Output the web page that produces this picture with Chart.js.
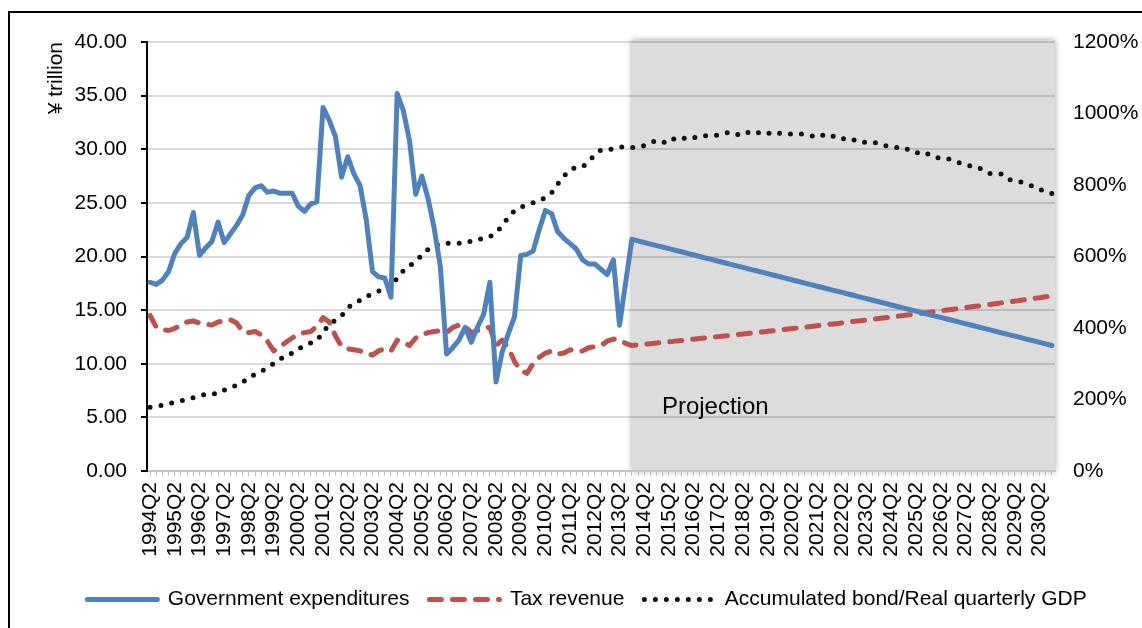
<!DOCTYPE html>
<html>
<head>
<meta charset="utf-8">
<title>Government expenditures, tax revenue and accumulated bond</title>
<script src="https://cdn.jsdelivr.net/npm/chart.js@4"></script>
<style>
    html, body { margin: 0; padding: 0; background: #fff; }
    #wrap { width: 1142px; height: 628px; position: relative; }
</style>
</head>
<body>
<div id="wrap"><canvas id="graphique"></canvas></div>
<script>
// Trimestres 1994Q2 -> 2030Q4
const quarters = []
for (let year = 1994; year <= 2030; year++) {
    for (let q = 1; q <= 4; q++) {
        if (year === 1994 && q === 1) continue
        quarters.push(year + "Q" + q)
    }
}
const projectionStart = "2013Q4"

// ¥ trillion
const govExpenditure = [
    17.6, 17.4, 17.8, 18.6, 20.3, 21.2, 21.8, 24.1, 20.1, 20.8,
    21.4, 23.2, 21.3, 22.1, 22.9, 23.9, 25.7, 26.4, 26.6, 26.0,
    26.1, 25.9, 25.9, 25.9, 24.7, 24.2, 24.9, 25.1, 33.9, 32.7,
    31.2, 27.4, 29.3, 27.7, 26.6, 23.4, 18.6, 18.1, 18.0, 16.2,
    35.2, 33.6, 30.8, 25.8, 27.5, 25.4, 22.6, 19.0, 10.9, 11.5,
    12.2, 13.4, 12.0, 13.4, 14.6, 17.6, 8.3, 11.1, 12.8, 14.4,
    20.1, 20.2, 20.5, 22.5, 24.3, 24.0, 22.3, 21.7, 21.2, 20.7,
    19.7, 19.3, 19.3, 18.8, 18.3, 19.7, 13.6, 17.6, 21.6,
    21.45, 21.31, 21.16, 21.02, 20.87, 20.73, 20.58, 20.44, 20.29, 20.14,
    20.00, 19.85, 19.71, 19.56, 19.42, 19.27, 19.12, 18.98, 18.83, 18.69,
    18.54, 18.40, 18.25, 18.11, 17.96, 17.81, 17.67, 17.52, 17.38, 17.23,
    17.09, 16.94, 16.80, 16.65, 16.50, 16.36, 16.21, 16.07, 15.92, 15.78,
    15.63, 15.48, 15.34, 15.19, 15.05, 14.90, 14.76, 14.61, 14.47, 14.32,
    14.17, 14.03, 13.88, 13.74, 13.59, 13.45, 13.30, 13.16, 13.01, 12.86,
    12.72, 12.57, 12.43, 12.28, 12.14, 11.99, 11.85, 11.70
]

const taxRevenue = [
    14.5, 13.4, 13.2, 13.1, 13.3, 13.6, 13.9, 14.0, 13.8, 13.7,
    13.6, 13.9, 14.0, 14.1, 13.8, 13.0, 12.9, 13.0, 12.7, 12.1,
    11.2, 11.6, 12.0, 12.4, 12.8, 12.9, 13.0, 13.5, 14.3, 13.9,
    12.6, 11.6, 11.4, 11.3, 11.2, 11.0, 10.8, 11.2, 11.4, 11.2,
    12.2, 12.0, 11.7, 12.4, 12.7, 12.9, 13.0, 13.1, 12.9, 13.4,
    13.6, 13.5, 12.9, 13.1, 13.3, 13.4, 11.7, 12.2, 11.5, 10.2,
    9.4, 9.1, 10.0, 10.6, 11.0, 11.2, 10.9, 11.0, 11.3, 11.2,
    11.2, 11.5, 11.6, 11.7, 12.1, 12.3, 12.2, 11.9, 11.7,
    11.76, 11.81, 11.87, 11.93, 11.99, 12.05, 12.11, 12.17, 12.23, 12.29,
    12.35, 12.41, 12.47, 12.53, 12.59, 12.65, 12.71, 12.77, 12.84, 12.90,
    12.96, 13.02, 13.09, 13.15, 13.22, 13.28, 13.35, 13.41, 13.48, 13.54,
    13.61, 13.68, 13.74, 13.81, 13.88, 13.95, 14.01, 14.08, 14.15, 14.22,
    14.29, 14.36, 14.43, 14.50, 14.57, 14.64, 14.72, 14.79, 14.86, 14.94,
    15.01, 15.08, 15.16, 15.23, 15.31, 15.38, 15.46, 15.53, 15.61, 15.69,
    15.77, 15.84, 15.92, 16.00, 16.08, 16.16, 16.24, 16.32
]

// % (axe de droite)
const bondToGdp = [
    178, 181, 184, 188, 192, 196, 200, 205, 210, 215,
    216, 216, 226, 234, 239, 248, 263, 270, 278, 290,
    300, 314, 318, 330, 342, 350, 358, 364, 388, 410,
    422, 434, 456, 470, 477, 488, 496, 503, 507, 512,
    540, 560, 574, 586, 604, 620, 630, 636, 637, 638,
    637, 637, 643, 648, 650, 655, 667, 685, 710, 728,
    738, 744, 750, 755, 765, 778, 803, 825, 843, 849,
    851, 865, 885, 898, 899, 901, 906, 907, 905, 906,
    910, 918, 925, 920, 918, 932, 933, 928, 932, 938,
    938, 938, 940, 945, 948, 942, 939, 949, 950, 942,
    944, 949, 944, 941, 943, 943, 942, 938, 934, 940,
    942, 932, 928, 932, 926, 919, 920, 921, 915, 910,
    906, 905, 905, 896, 889, 893, 886, 877, 876, 875,
    868, 862, 856, 853, 850, 840, 832, 832, 830, 816,
    812, 808, 802, 796, 788, 782, 776
]

const leftTicks = { min: 0, max: 40, step: 5 }
const rightTicks = { min: 0, max: 1200, step: 200 }

const FONT = '"Liberation Sans", Arial, Helvetica, sans-serif'
Chart.defaults.font.family = FONT
Chart.defaults.color = "#000"

// Zone grisée de la projection + libellé + cadre
const projectionPlugin = {
    id: "projection",
    beforeDraw(chart) {
        const { ctx, chartArea, scales } = chart
        const x0 = scales.x.getPixelForValue(quarters.indexOf(projectionStart))
        ctx.save()
        ctx.shadowColor = "rgba(0, 0, 0, 0.35)"
        ctx.shadowBlur = 6
        ctx.fillStyle = "#dcdcdc"
        ctx.fillRect(x0, chartArea.top - 2, chartArea.right - x0, chartArea.bottom - chartArea.top + 2)
        ctx.restore()
    },
    beforeDatasetsDraw(chart) {
        const { ctx, scales } = chart
        const x0 = scales.x.getPixelForValue(quarters.indexOf(projectionStart))
        ctx.save()
        ctx.font = "24px " + FONT
        ctx.fillStyle = "#000"
        ctx.textBaseline = "middle"
        ctx.fillText("Projection", x0 + 30, scales.y.getPixelForValue(5.9))
        ctx.restore()
    },
    afterDraw(chart) {
        const { ctx } = chart
        ctx.save()
        ctx.strokeStyle = "#000"
        ctx.lineWidth = 2
        ctx.beginPath()
        ctx.moveTo(9, chart.height)
        ctx.lineTo(9, 12)
        ctx.lineTo(chart.width, 12)
        ctx.stroke()
        ctx.restore()
    }
}

const data = {
    labels: quarters,
    datasets: [{
        label: "Government expenditures",
        data: govExpenditure,
        borderColor: "#4f81bd",
        borderWidth: 5,
        borderCapStyle: "round",
        borderJoinStyle: "round",
        pointRadius: 0,
        yAxisID: "y",
    }, {
        label: "Tax revenue",
        data: taxRevenue,
        borderColor: "#c0504d",
        borderWidth: 5,
        borderDash: [12, 11],
        borderCapStyle: "round",
        borderJoinStyle: "round",
        pointRadius: 0,
        yAxisID: "y",
    }, {
        label: "Accumulated bond/Real quarterly GDP",
        data: bondToGdp,
        borderColor: "#111",
        borderWidth: 5,
        borderDash: [0, 11],
        borderCapStyle: "round",
        pointRadius: 0,
        yAxisID: "y1",
    }]
}

const config = {
    type: "line",
    data: data,
    plugins: [projectionPlugin],
    options: {
        responsive: true,
        maintainAspectRatio: false,
        animation: false,
        events: [],
        layout: { padding: { left: 32, right: 0, top: 42, bottom: 8 } },
        plugins: {
            tooltip: { enabled: false },
            legend: {
                position: "bottom",
                labels: {
                    usePointStyle: true,
                    pointStyleWidth: 70,
                    padding: 20,
                    font: { size: 21 },
                    color: "#000",
                    generateLabels(chart) {
                        return chart.data.datasets.map((ds, i) => ({
                            text: ds.label,
                            fillStyle: "rgba(0,0,0,0)",
                            strokeStyle: ds.borderColor,
                            lineWidth: ds.borderWidth,
                            lineDash: ds.borderDash || [],
                            lineCap: ds.borderCapStyle || "butt",
                            pointStyle: "line",
                            fontColor: "#000",
                            hidden: false,
                            datasetIndex: i,
                        }))
                    }
                }
            }
        },
        scales: {
            x: {
                offset: true,
                grid: { drawOnChartArea: false, drawTicks: true, tickLength: 5, tickColor: "#bfbfbf", tickWidth: 1 },
                border: { color: "#c4c4c4", width: 2 },
                ticks: {
                    autoSkip: false,
                    minRotation: 90,
                    maxRotation: 90,
                    padding: 6,
                    font: { size: 21 },
                    color: "#000",
                    callback(value) {
                        const label = this.getLabelForValue(value)
                        return label.endsWith("Q2") ? label : ""
                    }
                },
                afterFit(scale) { scale.height = 98 }
            },
            y: {
                position: "left",
                min: leftTicks.min,
                max: leftTicks.max,
                ticks: {
                    stepSize: leftTicks.step,
                    padding: 14,
                    font: { size: 21 },
                    color: "#000",
                    callback: v => v.toFixed(2)
                },
                grid: { color: "rgba(0,0,0,0.15)", lineWidth: 2, tickColor: "#000", tickLength: 6, tickWidth: 2 },
                border: { color: "#000", width: 2 },
                title: {
                    display: true,
                    text: "¥ trillion",
                    align: "end",
                    font: { size: 21 },
                    color: "#000",
                    padding: { top: 12, bottom: 0 }
                },
                afterFit(scale) { scale.width = 115 }
            },
            y1: {
                position: "right",
                min: rightTicks.min,
                max: rightTicks.max,
                ticks: {
                    stepSize: rightTicks.step,
                    padding: 18,
                    font: { size: 21 },
                    color: "#000",
                    callback: v => v + "%"
                },
                grid: { display: false, drawTicks: false, drawOnChartArea: false },
                border: { display: false },
                afterFit(scale) { scale.width = 87 }
            }
        }
    }
}

new Chart(document.querySelector("#graphique"), config)
</script>
</body>
</html>
